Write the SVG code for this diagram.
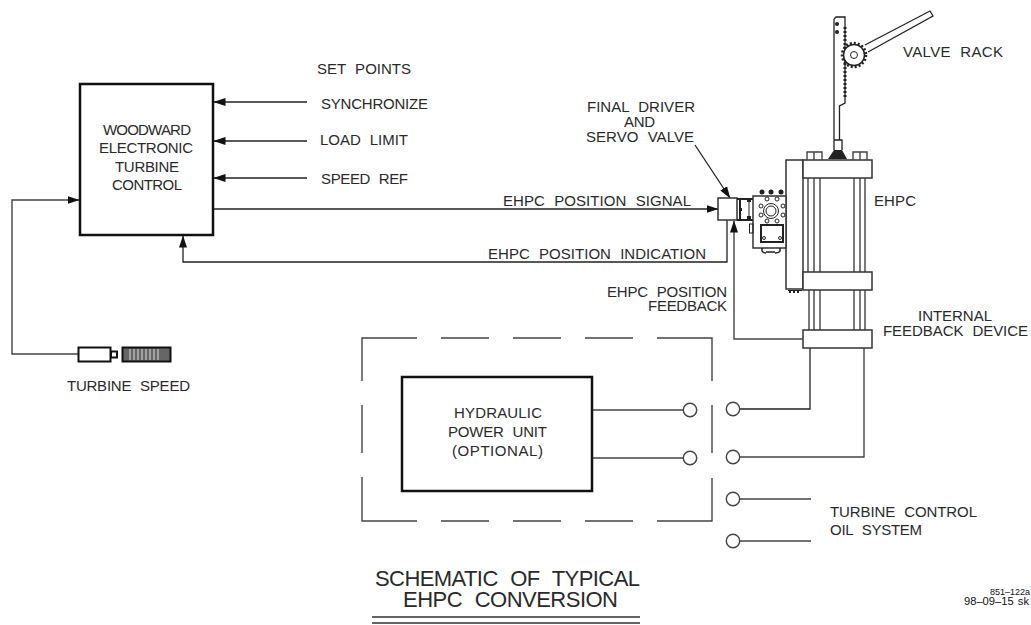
<svg xmlns="http://www.w3.org/2000/svg" width="1031" height="625" viewBox="0 0 1031 625">
<style>
text{font-family:"Liberation Sans",Arial,sans-serif;font-size:15px;fill:#2a2a2a;word-spacing:5px}
.big{font-size:22px;word-spacing:7px}
.sm{font-size:10px;word-spacing:1px;fill:#111}
.xs{font-size:9px;fill:#111}
.l{fill:none;stroke:#444;stroke-width:1.400}
.k{fill:none;stroke:#222;stroke-width:1.300}
.t{fill:#fff;stroke:#111;stroke-width:2.500}
.f{fill:#fff;stroke:#333;stroke-width:1.500}
.c{fill:#fff;stroke:#444;stroke-width:1.400}
.g{fill:none;stroke:#222;stroke-width:1}
.d{fill:#222;stroke:none}
</style>
<defs><marker id="a" markerWidth="12" markerHeight="8" refX="11.500" refY="4" orient="auto" markerUnits="userSpaceOnUse"><path d="M0 0L12 4L0 8Z" fill="#111"/></marker></defs>
<g id="connectors">
<path class="k" marker-end="url(#a)" d="M307 102H214"/>
<path class="k" marker-end="url(#a)" d="M307 141H214"/>
<path class="k" marker-end="url(#a)" d="M307 178H214"/>
<path class="k" marker-end="url(#a)" d="M214 209H718"/>
<path class="k" marker-end="url(#a)" d="M727 220V262H183V236"/>
<path class="l" marker-end="url(#a)" d="M803 339H734V221"/>
<path class="l" marker-end="url(#a)" d="M78 354H12V200H79"/>
<path class="k" marker-end="url(#a)" d="M695 145L730 198"/>
<path class="k" d="M810 348V409H740"/>
<path class="l" d="M864 348V457H740"/>
<path class="l" d="M740 499H811"/>
<path class="l" d="M740 541H811"/>
<path class="l" d="M592 410H683"/>
<path class="l" d="M592 458H683"/>
</g>
<g id="woodward-control"><rect class="t" x="80" y="84" width="133" height="151"/>
<text x="103" y="135" textLength="88">WOODWARD</text><text x="99" y="153" textLength="94">ELECTRONIC</text><text x="115" y="172" textLength="64">TURBINE</text><text x="112" y="190" textLength="70">CONTROL</text></g>
<g id="set-points"><text x="317" y="74" textLength="94">SET POINTS</text><text x="321" y="109" textLength="107">SYNCHRONIZE</text><text x="320" y="145" textLength="88">LOAD LIMIT</text><text x="321" y="184" textLength="87">SPEED REF</text></g>
<g id="hydraulic-unit"><rect class="t" x="402" y="377" width="190" height="114"/>
<text x="454" y="418" textLength="88">HYDRAULIC</text><text x="448" y="437" textLength="99">POWER UNIT</text><text x="452" y="456" textLength="91">(OPTIONAL)</text></g>
<path id="dashed-boundary" class="l" d="M362 381V338H417M441 338H489M513 338H561M585 338H633M657 338H712V381M712 405V453M712 478V521H657M633 521H585M561 521H513M489 521H441M417 521H362V477M362 453V405"/>
<g id="ports" class="c"><circle cx="690" cy="410" r="6.700"/><circle cx="733" cy="409" r="6.700"/><circle cx="690" cy="458" r="6.700"/><circle cx="733" cy="457" r="6.700"/><circle cx="733" cy="499" r="6.700"/><circle cx="733" cy="541" r="6.700"/></g>
<g id="speed-sensor"><rect x="78.500" y="347.500" width="32" height="14" fill="#fff" stroke="#111" stroke-width="2"/><rect x="111" y="351.500" width="6" height="6" fill="#fff" stroke="#111" stroke-width="2"/><rect x="122.500" y="347.500" width="48" height="14" fill="#666" stroke="#111" stroke-width="2"/><path stroke="#ddd" d="M130 349v11M134 349v11M138 349v11M142 349v11M146 349v11M150 349v11M154 349v11M158 349v11"/></g>
<text id="turbine-speed" x="67" y="391" textLength="123">TURBINE SPEED</text>
<g id="driver-label"><text x="587" y="112" textLength="108">FINAL DRIVER</text><text x="624" y="127" textLength="31">AND</text><text x="586" y="142" textLength="108">SERVO VALVE</text></g>
<text id="sig-label" x="503" y="206" textLength="188">EHPC POSITION SIGNAL</text>
<text id="ind-label" x="488" y="259" textLength="218">EHPC POSITION INDICATION</text>
<g id="fb-label"><text x="607" y="297" textLength="120">EHPC POSITION</text><text x="648" y="311" textLength="79">FEEDBACK</text></g>
<text id="ehpc-label" x="874" y="206" textLength="42">EHPC</text>
<text id="rack-label" x="903" y="57" textLength="100">VALVE RACK</text>
<g id="ifd-label"><text x="918" y="321" textLength="74">INTERNAL</text><text x="883" y="336" textLength="145">FEEDBACK DEVICE</text></g>
<g id="oil-label"><text x="830" y="517" textLength="147">TURBINE CONTROL</text><text x="830" y="535" textLength="92">OIL SYSTEM</text></g>
<g id="title"><text class="big" x="375" y="586" textLength="265">SCHEMATIC OF TYPICAL</text><text class="big" x="403" y="607" textLength="215">EHPC CONVERSION</text><path stroke="#333" stroke-width="1.400" d="M372 617H640M372 623H640"/></g>
<g id="ref"><text class="xs" x="990" y="595">851–122a</text><text class="sm" x="964" y="605" textLength="65" lengthAdjust="spacingAndGlyphs">98–09–15 sk</text></g>
<g id="ehpc-actuator">
<path class="f" d="M786 160H803V289H786Z"/>
<path class="g" d="M788 290.500H802"/><path stroke="#222" stroke-width="2" stroke-dasharray="2 2" d="M789 292H801"/>
<path class="l" d="M808 178V272M814 178V272M820 178V272M854 178V272M860 178V272M865 178V272M809 290V330M814 290V330M820 290V330M854 290V330M860 290V330M865 290V330"/>
<rect class="f" x="803" y="160" width="69" height="18"/><rect class="f" x="803" y="272" width="69" height="18"/><rect class="f" x="803" y="330" width="69" height="18"/>
<path class="l" d="M807 160V152H822V160M814 152V160M853 160V152H867V160M860 152V160"/>
<path class="k" d="M834 19L836 17H845V103L839.500 106V140M834 19V140M834 140H842V150"/>
<path class="k" d="M834 140V150"/>
<path class="d" d="M834 150H842L847 159H828Z"/>
<circle class="d" cx="837" cy="24" r="2"/><circle class="d" cx="837" cy="32" r="2"/>
<path fill="none" stroke="#222" stroke-width="3" stroke-dasharray="2 2" d="M845 27V98"/>
<path class="k" d="M865 45L930 11L933 16L868 52"/>
<circle cx="854" cy="55" r="10.500" fill="#fff" stroke="#222" stroke-width="1.500"/><circle cx="854" cy="55" r="12" fill="none" stroke="#222" stroke-width="2.500" stroke-dasharray="2 2"/><circle class="g" cx="854" cy="55" r="3.500"/>
</g>
<g id="servo-valve">
<rect class="f" x="718" y="198" width="19" height="22"/>
<path fill="none" stroke="#222" stroke-width="2" d="M737 199H753M737 220H753M740 199V220"/>
<path class="g" d="M749 199V220"/>
<path class="d" d="M739 208h3v3h-3zM747 199h4v3h-4zM747 216h4v3h-4z"/>
<path class="f" d="M753 196H786V248H753Z"/>
<circle class="g" cx="771" cy="211" r="7.500" stroke-width="1.500"/><circle class="g" cx="771" cy="211" r="5"/>
<g class="g"><circle cx="761" cy="206" r="2"/><circle cx="783" cy="206" r="2"/><circle cx="761" cy="215" r="2"/><circle cx="783" cy="215" r="2"/><circle cx="767" cy="199" r="2"/><circle cx="777" cy="199" r="2"/><circle cx="767" cy="221" r="2"/><circle cx="777" cy="221" r="2"/></g>
<circle class="d" cx="762" cy="192" r="2.500"/><circle class="d" cx="771" cy="192" r="2.500"/><circle class="d" cx="781" cy="192" r="2.500"/>
<rect x="761" y="225" width="22" height="17" fill="#fff" stroke="#222" stroke-width="2"/>
<circle class="g" cx="764" cy="238" r="1.500"/><circle class="g" cx="780" cy="238" r="1.500"/>
<path fill="none" stroke="#222" stroke-width="1.500" d="M762 248V251Q763 253 766 253M775 253Q779 253 780 251V248M766 252H775"/>
<rect class="g" x="749.500" y="224" width="3.500" height="9"/>
</g>
</svg>
